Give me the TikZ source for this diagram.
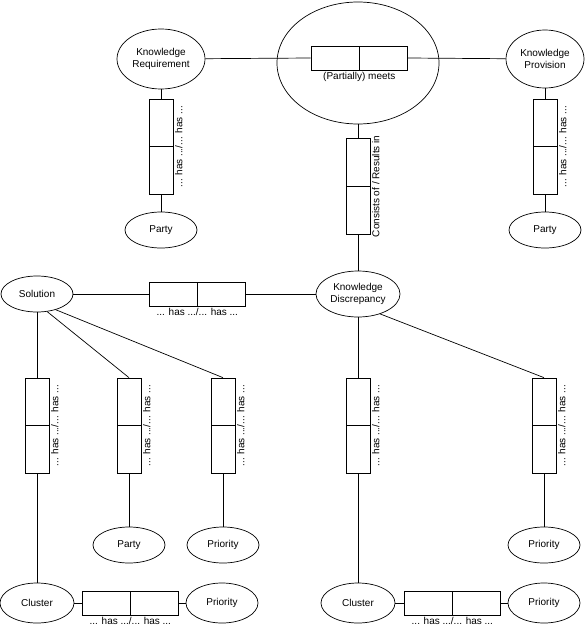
\documentclass[tikz,border=0pt]{standalone}
\usepackage{fontspec}
\setmainfont{Liberation Sans}
\usepackage{tikz}
\usetikzlibrary{shapes,shapes.geometric,positioning,calc}

\begin{document}
\begin{tikzpicture}[
    x=1pt, y=-1pt,
    line width=0.7pt,
    entity/.style={draw, ellipse, align=center, inner sep=0pt, minimum width=72, minimum height=36, font=\fontsize{10}{12}\selectfont},
    halfv/.style={draw, rectangle, inner sep=0pt, minimum width=24, minimum height=47.5},
    halfh/.style={draw, rectangle, inner sep=0pt, minimum width=48, minimum height=24},
    rellabel/.style={font=\fontsize{10}{12}\selectfont, inner sep=1.5pt},
    vlabel/.style={rellabel, rotate=90, anchor=north}
]
    \useasboundingbox (0,0) rectangle (586,629);

    % Top row
    \node[entity, minimum width=88, minimum height=60] (kreq) at (161,59) {Knowledge\\Requirement};
    \node[entity, minimum width=162, minimum height=122] (meets) at (358,63) {};
    \node[halfh] (m1) at (335,58) {};
    \node[halfh] (m2) at (383,58) {};
    \node[rellabel, anchor=north] (mlab) at (m1.south east) {(Partially) meets};
    \node[entity, minimum width=78, minimum height=58] (kprov) at (545,59) {Knowledge\\Provision};

    % Parties of requirement and provision
    \node[halfv] (pr1) at (161,122.75) {};
    \node[halfv] (pr2) at (161,170.25) {};
    \node[vlabel] (prlab) at (pr1.south east) {... has .../... has ...};
    \node[entity] (partyr) at (161,230) {Party};
    \node[halfv] (pp1) at (545,122.75) {};
    \node[halfv] (pp2) at (545,170.25) {};
    \node[vlabel] (pplab) at (pp1.south east) {... has .../... has ...};
    \node[entity] (partyp) at (545,230) {Party};

    % Consists of / Results in
    \node[halfv, minimum height=48] (cr1) at (358,162) {};
    \node[halfv, minimum height=48] (cr2) at (358,210) {};
    \node[vlabel] (crlab) at (cr1.south east) {Consists of / Results in};

    % Middle row
    \node[entity] (sol) at (37,294) {Solution};
    \node[entity, minimum width=84, minimum height=46] (kdisc) at (358,294) {Knowledge\\Discrepancy};
    \node[halfh] (sk1) at (173,294) {};
    \node[halfh] (sk2) at (221,294) {};
    \node[rellabel, anchor=north] (sklab) at (sk1.south east) {... has .../... has ...};

    % Relations below solution
    \node[halfv] (sc1) at (37,401.75) {};
    \node[halfv] (sc2) at (37,449.25) {};
    \node[vlabel] (sclab) at (sc1.south east) {... has .../... has ...};
    \node[halfv] (sp1) at (129,401.75) {};
    \node[halfv] (sp2) at (129,449.25) {};
    \node[vlabel] (splab) at (sp1.south east) {... has .../... has ...};
    \node[halfv] (so1) at (223,401.75) {};
    \node[halfv] (so2) at (223,449.25) {};
    \node[vlabel] (solab) at (so1.south east) {... has .../... has ...};

    % Relations below discrepancy
    \node[halfv] (dc1) at (358,401.75) {};
    \node[halfv] (dc2) at (358,449.25) {};
    \node[vlabel] (dclab) at (dc1.south east) {... has .../... has ...};
    \node[halfv] (do1) at (544,401.75) {};
    \node[halfv] (do2) at (544,449.25) {};
    \node[vlabel] (dolab) at (do1.south east) {... has .../... has ...};

    % Party and priorities
    \node[entity] (partys) at (129,545) {Party};
    \node[entity] (prios) at (223,545) {Priority};
    \node[entity] (priod) at (544,545) {Priority};

    % Bottom row
    \node[entity, minimum width=74, minimum height=40] (clus) at (37,603) {Cluster};
    \node[halfh] (cs1) at (106,603) {};
    \node[halfh] (cs2) at (154,603) {};
    \node[rellabel, anchor=north] (cslab) at (cs1.south east) {... has .../... has ...};
    \node[entity, minimum height=40] (prioc) at (222,603) {Priority};
    \node[entity, minimum width=74, minimum height=40] (clud) at (358,603) {Cluster};
    \node[halfh] (cd1) at (428,603) {};
    \node[halfh] (cd2) at (476,603) {};
    \node[rellabel, anchor=north] (cdlab) at (cd1.south east) {... has .../... has ...};
    \node[entity, minimum height=40] (priocd) at (544,603) {Priority};

    % Edges
    \draw (kreq) -- (m1.west);
    \draw (m2.east) -- (kprov);
    \draw (kreq) -- (pr1.north);
    \draw (pr2.south) -- (partyr);
    \draw (kprov) -- (pp1.north);
    \draw (pp2.south) -- (partyp);
    \draw (meets) -- (cr1.north);
    \draw (cr2.south) -- (kdisc);
    \draw (sol) -- (sk1.west);
    \draw (sk2.east) -- (kdisc);
    \draw (sol.south) -- (sc1.north);
    \draw (sol.-60) -- (sp1.north);
    \draw (sol.-40) -- (so1.north);
    \draw (kdisc.south) -- (dc1.north);
    \draw (kdisc.-42) -- (do1.north);
    \draw (sp2.south) -- (partys);
    \draw (so2.south) -- (prios);
    \draw (do2.south) -- (priod);
    \draw (sc2.south) -- (clus);
    \draw (dc2.south) -- (clud);
    \draw (clus) -- (cs1.west);
    \draw (cs2.east) -- (prioc);
    \draw (clud) -- (cd1.west);
    \draw (cd2.east) -- (priocd);

\end{tikzpicture}
\end{document}
